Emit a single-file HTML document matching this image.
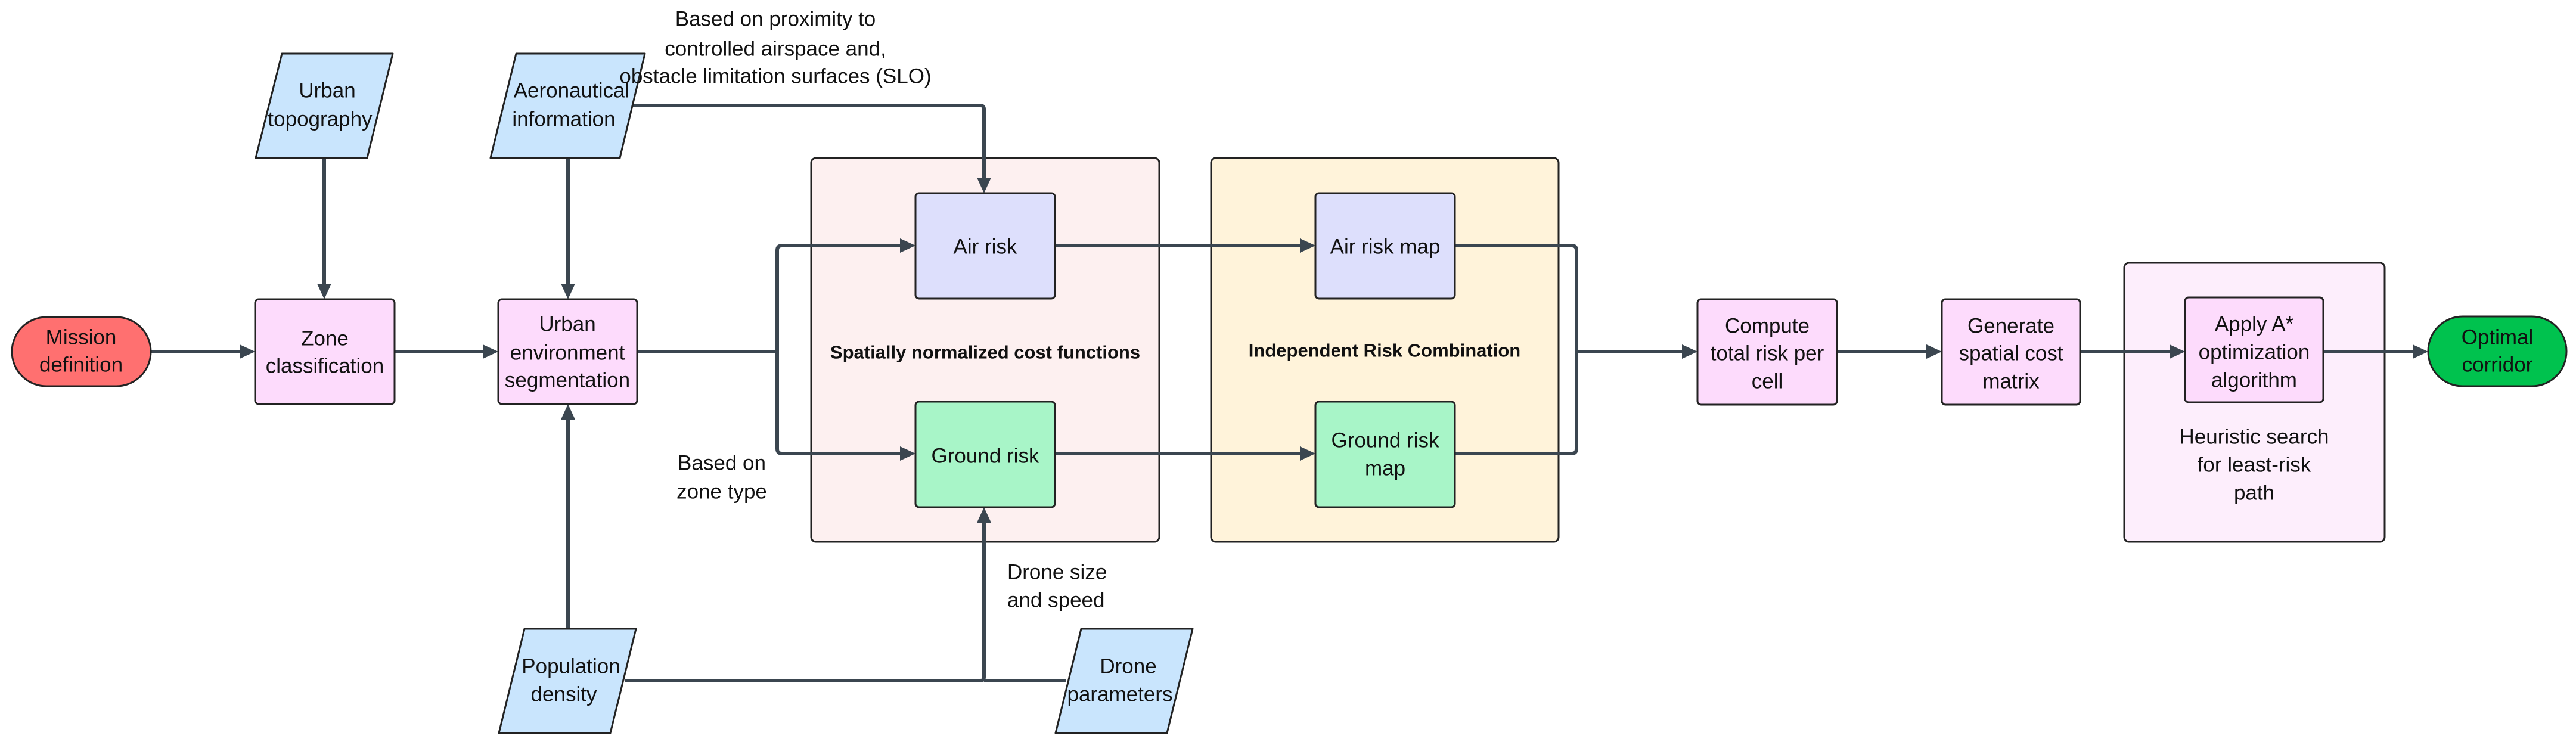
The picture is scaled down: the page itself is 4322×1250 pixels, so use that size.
<!DOCTYPE html>
<html><head><meta charset="utf-8"><style>
html,body{margin:0;padding:0;background:#fff;}
svg{display:block;}
text{font-family:"Liberation Sans",sans-serif;font-size:35px;fill:#111;text-anchor:middle;dominant-baseline:central;}
.b{font-weight:bold;font-size:31px;}
.e{fill:none;stroke:#3b4650;stroke-width:6;stroke-linejoin:round;}
.n{stroke:#222;stroke-width:3;}
</style></head><body>
<svg width="4322" height="1250" viewBox="0 0 4322 1250" xmlns="http://www.w3.org/2000/svg">
<!-- containers -->
<rect x="1361" y="265" width="584" height="644" rx="8" fill="#fdf0f0" class="n"/>
<rect x="2032" y="265" width="583" height="644" rx="8" fill="#fff3da" class="n"/>
<rect x="3564" y="441" width="437" height="468" rx="8" fill="#fdeefc" class="n"/>

<!-- edges -->
<g class="e">
<line x1="253" y1="590" x2="404" y2="590"/>
<line x1="662" y1="590" x2="812" y2="590"/>
<line x1="544" y1="265" x2="544" y2="478"/>
<line x1="953" y1="265" x2="953" y2="478"/>
<line x1="953" y1="1055" x2="953" y2="702"/>
<path d="M1050 177 H1645 Q1651 177 1651 183 V300"/>
<line x1="1069" y1="590" x2="1304" y2="590"/>
<path d="M1512 412 H1312 Q1304 412 1304 420 V753 Q1304 761 1312 761 H1512"/>
<path d="M1048 1142 H1645 Q1651 1142 1651 1136 V875"/>
<line x1="1789" y1="1142" x2="1651" y2="1142"/>
<line x1="1770" y1="412" x2="2183" y2="412"/>
<line x1="1770" y1="761" x2="2183" y2="761"/>
<path d="M2441 412 H2637 Q2645 412 2645 420 V753 Q2645 761 2637 761 H2441"/>
<line x1="2645" y1="590" x2="2824" y2="590"/>
<line x1="3082" y1="590" x2="3234" y2="590"/>
<line x1="3490" y1="590" x2="3642" y2="590"/>
<line x1="3898" y1="590" x2="4050" y2="590"/>
</g>
<!-- arrowheads -->
<g fill="#3b4650">
<polygon points="428,590 402,578 402,602"/>
<polygon points="836,590 810,578 810,602"/>
<polygon points="544,502 532,476 556,476"/>
<polygon points="953,502 941,476 965,476"/>
<polygon points="953,678 941,704 965,704"/>
<polygon points="1651,324 1639,298 1663,298"/>
<polygon points="1536,412 1510,400 1510,424"/>
<polygon points="1536,761 1510,749 1510,773"/>
<polygon points="1651,851 1639,877 1663,877"/>
<polygon points="2207,412 2181,400 2181,424"/>
<polygon points="2207,761 2181,749 2181,773"/>
<polygon points="2848,590 2822,578 2822,602"/>
<polygon points="3258,590 3232,578 3232,602"/>
<polygon points="3666,590 3640,578 3640,602"/>
<polygon points="4074,590 4048,578 4048,602"/>
</g>

<!-- nodes -->
<rect x="20" y="532" width="233" height="116" rx="58" fill="#ff7070" class="n"/>
<text x="136" y="566">Mission</text><text x="136" y="612">definition</text>

<rect x="428" y="502" width="234" height="176" rx="6" fill="#fddbfc" class="n"/>
<text x="545" y="568">Zone</text><text x="545" y="614">classification</text>

<rect x="836" y="502" width="233" height="176" rx="6" fill="#fddbfc" class="n"/>
<text x="952" y="544">Urban</text><text x="952" y="592">environment</text><text x="952" y="638">segmentation</text>

<path d="M473 90 H659 L616 265 H429 Z" fill="#c9e5fd" class="n" stroke-linejoin="round"/>
<text x="549" y="152">Urban</text><text x="537" y="200">topography</text>

<path d="M866 90 H1082 L1040 265 H823 Z" fill="#c9e5fd" class="n" stroke-linejoin="round"/>
<text x="959" y="152">Aeronautical</text><text x="946" y="200">information</text>

<path d="M880 1055 H1067 L1024 1230 H837 Z" fill="#c9e5fd" class="n" stroke-linejoin="round"/>
<text x="958" y="1118">Population</text><text x="946" y="1165">density</text>

<path d="M1814 1055 H2001 L1958 1230 H1771 Z" fill="#c9e5fd" class="n" stroke-linejoin="round"/>
<text x="1893" y="1118">Drone</text><text x="1879" y="1165">parameters</text>

<rect x="1536" y="324" width="234" height="177" rx="6" fill="#dddffc" class="n"/>
<text x="1653" y="414">Air risk</text>
<rect x="1536" y="674" width="234" height="177" rx="6" fill="#a8f5c8" class="n"/>
<text x="1653" y="765">Ground risk</text>
<text x="1653" y="591" class="b">Spatially normalized cost functions</text>

<rect x="2207" y="324" width="234" height="177" rx="6" fill="#dddffc" class="n"/>
<text x="2324" y="414">Air risk map</text>
<rect x="2207" y="674" width="234" height="177" rx="6" fill="#a8f5c8" class="n"/>
<text x="2324" y="739">Ground risk</text><text x="2324" y="786">map</text>
<text x="2323" y="588" class="b">Independent Risk Combination</text>

<rect x="2848" y="502" width="234" height="177" rx="6" fill="#fddbfc" class="n"/>
<text x="2965" y="547">Compute</text><text x="2965" y="593">total risk per</text><text x="2965" y="640">cell</text>

<rect x="3258" y="502" width="232" height="177" rx="6" fill="#fddbfc" class="n"/>
<text x="3374" y="547">Generate</text><text x="3374" y="593">spatial cost</text><text x="3374" y="640">matrix</text>

<rect x="3666" y="499" width="232" height="176" rx="6" fill="#fddbfc" class="n"/>
<text x="3782" y="544">Apply A*</text><text x="3782" y="591">optimization</text><text x="3782" y="638">algorithm</text>
<text x="3782" y="733">Heuristic search</text><text x="3782" y="780">for least-risk</text><text x="3782" y="827">path</text>

<rect x="4074" y="531" width="232" height="117" rx="58" fill="#00c24e" class="n"/>
<text x="4190" y="566">Optimal</text><text x="4190" y="612">corridor</text>

<!-- labels -->
<text x="1301" y="32">Based on proximity to</text>
<text x="1301" y="82">controlled airspace and,</text>
<text x="1301" y="128">obstacle limitation surfaces (SLO)</text>
<text x="1211" y="777">Based on</text><text x="1211" y="825">zone type</text>
<text x="1690" y="960" style="text-anchor:start">Drone size</text>
<text x="1690" y="1007" style="text-anchor:start">and speed</text>
</svg>
</body></html>
